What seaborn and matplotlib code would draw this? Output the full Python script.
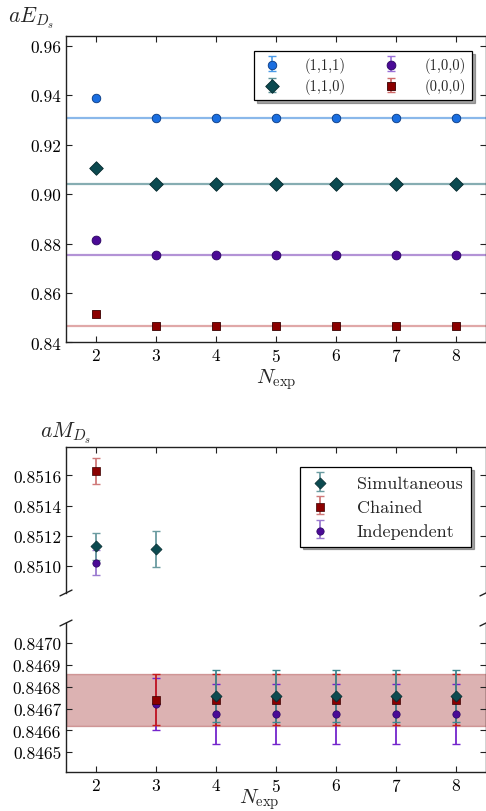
import matplotlib
matplotlib.use("Agg")
import numpy as np
import pandas as pd
import seaborn as sns
import matplotlib.pyplot as plt
from matplotlib.ticker import FormatStrFormatter, MultipleLocator

# ---------------- data ----------------
n_exp = [2, 3, 4, 5, 6, 7, 8]

# top panel: aE_Ds for different momenta
mom_labels = ["(1,1,1)", "(1,1,0)", "(1,0,0)", "(0,0,0)"]
e_111 = [0.9388, 0.9309, 0.9309, 0.9309, 0.9309, 0.9309, 0.9309]
e_110 = [0.9106, 0.9039, 0.9039, 0.9039, 0.9039, 0.9039, 0.9039]
e_100 = [0.8814, 0.8755, 0.8755, 0.8755, 0.8755, 0.8755, 0.8755]
e_000 = [0.8517, 0.8468, 0.8468, 0.8468, 0.8468, 0.8468, 0.8468]
e_err = [0.0002, 0.0001, 0.0001, 0.0001, 0.0001, 0.0001, 0.0001]
e_fit = [0.9309, 0.9039, 0.8755, 0.8468]

# bottom panel: aM_Ds for fit strategies
fit_labels = ["Simultaneous", "Chained", "Independent"]
m_sim = [0.85113, 0.85111, 0.846759, 0.846759, 0.846759, 0.846759, 0.846759]
m_sim_err = [0.00009, 0.00012, 0.00012, 0.00012, 0.00012, 0.00012, 0.00012]
m_chn = [0.85163, 0.84674, 0.84674, 0.84674, 0.84674, 0.84674, 0.84674]
m_chn_err = [0.000085, 0.000117, 0.000117, 0.000117, 0.000117, 0.000117, 0.000117]
m_ind = [0.85102, 0.84672, 0.846674, 0.846674, 0.846674, 0.846674, 0.846674]
m_ind_err = [0.000083, 0.00012, 0.000138, 0.000138, 0.000138, 0.000138, 0.000138]
band_lo, band_hi = 0.84662, 0.846859

# ---------------- style ----------------
sns.set_style("ticks")
plt.rcParams.update({
    "font.family": "serif",
    "font.serif": ["cmr10", "DejaVu Serif"],
    "mathtext.fontset": "cm",
    "axes.formatter.use_mathtext": True,
    "axes.unicode_minus": False,
    "xtick.direction": "in",
    "ytick.direction": "in",
    "xtick.major.size": 4,
    "ytick.major.size": 4,
    "axes.edgecolor": "#222222",
    "axes.linewidth": 1.0,
    "xtick.color": "#222222",
    "ytick.color": "#222222",
    "xtick.labelcolor": "black",
    "ytick.labelcolor": "black",
    "legend.scatterpoints": 1,
})

fig = plt.figure(figsize=(4.86, 8.12), dpi=100)
L, W = 0.1358, 0.8642
ax1 = fig.add_axes([L, 0.5770, W, 0.3774])
ax2 = fig.add_axes([L, 0.2685, W, 0.1801])
ax3 = fig.add_axes([L, 0.0484, W, 0.1831])

# ---------------- top panel ----------------
top_series = [e_111, e_110, e_100, e_000]
top_mark = ["o", "D", "o", "s"]
top_size = [38, 48, 40, 40]
top_col = ["#1a6ee0", "#0c4a50", "#4b0a96", "#8b0000"]
top_edge = ["#0a3a80", "#062a2e", "#2a0560", "#3a0000"]
top_line = ["#8ab8ea", "#86adb2", "#b393d6", "#e0a8a8"]
top_ecol = ["#4a9ae8", "#5a8f96", "#9a70d8", "#d06a6a"]

handles_top = []
for vals, mk, sz, c, ec, lc, erc, fit, lab in zip(top_series, top_mark, top_size, top_col,
                                                top_edge, top_line, top_ecol, e_fit, mom_labels):
    ax1.axhline(fit, color=lc, lw=1.6, zorder=1)
    eb = ax1.errorbar(n_exp, vals, yerr=e_err, fmt="none", ecolor=erc, elinewidth=1.2,
                      capsize=3, capthick=1.0, zorder=2)
    df = pd.DataFrame({"N": n_exp, "v": vals})
    sns.scatterplot(data=df, x="N", y="v", marker=mk, s=sz, color=c, edgecolor=ec,
                    linewidth=0.6, ax=ax1, zorder=3, legend=False)
    handles_top.append((eb, ax1.collections[-1]))

ax1.set_xlim(1.5, 8.5)
ax1.set_ylim(0.84, 0.9639)
ax1.yaxis.set_major_locator(MultipleLocator(0.02))
ax1.yaxis.set_major_formatter(FormatStrFormatter("%.2f"))
ax1.set_xticks(n_exp)
ax1.tick_params(axis="both", labelsize=12.5, top=True, right=True)
ax1.set_xlabel(r"$N_{\rm exp}$", fontsize=15)
ax1.xaxis.set_label_coords(0.5, -0.078)
ax1.set_ylabel("")
ax1.text(-0.083, 1.062, r"$aE_{D_s}$", transform=ax1.transAxes, fontsize=15.5,
         ha="center", va="center")
for s in ax1.spines.values():
    s.set_visible(True)

leg1 = ax1.legend(handles_top, mom_labels,
                  ncol=2, loc="upper right", bbox_to_anchor=(0.967, 0.951),
                  borderaxespad=0.0,
                  fontsize=10.5, frameon=True, fancybox=False, shadow=True,
                  edgecolor="black", handlelength=1.6, columnspacing=2.3,
                  handletextpad=1.5, borderpad=0.4, labelspacing=0.35)
leg1.get_frame().set_linewidth(0.9)

# ---------------- bottom panels ----------------
bot_series = [m_sim, m_chn, m_ind]
bot_err = [m_sim_err, m_chn_err, m_ind_err]
bot_mark = ["D", "s", "o"]
bot_size = [32, 28, 28]
bot_col = ["#0c4a50", "#8b0000", "#4b0a96"]
bot_edge = ["#062a2e", "#3a0000", "#2a0560"]
bot_ecol_up = ["#6a9ba0", "#d07a7a", "#9a7ad0"]
bot_ecol_lo = ["#3e8890", "#c81e1e", "#7424cc"]

ax3.axhspan(band_lo, band_hi, facecolor="#8b0000", alpha=0.3, edgecolor="#8b0000",
            lw=1.0, zorder=0)

order = [2, 1, 0]  # draw independent first, simultaneous on top
eb_store = {}
sc_store = {}
for ax, ecols in ((ax2, bot_ecol_up), (ax3, bot_ecol_lo)):
    for i in order:
        eb = ax.errorbar(n_exp, bot_series[i], yerr=bot_err[i], fmt="none",
                         ecolor=ecols[i], elinewidth=1.3, capsize=3, capthick=1.0, zorder=2)
        df = pd.DataFrame({"N": n_exp, "v": bot_series[i]})
        sns.scatterplot(data=df, x="N", y="v", marker=bot_mark[i], s=bot_size[i],
                        color=bot_col[i], edgecolor=bot_edge[i], linewidth=0.5,
                        ax=ax, zorder=3 + (2 - i), legend=False)
        if ax is ax2:
            eb_store[i] = eb
            sc_store[i] = ax.collections[-1]

for ax in (ax2, ax3):
    ax.set_xlim(1.5, 8.5)
    ax.set_xticks(n_exp)
    ax.set_ylabel("")
    ax.set_xlabel("")
    ax.tick_params(axis="both", labelsize=12.5, right=True)
    ax.yaxis.set_major_formatter(FormatStrFormatter("%.4f"))

ax2.set_ylim(0.85082, 0.85179)
ax2.yaxis.set_major_locator(MultipleLocator(0.0002))
ax2.spines["bottom"].set_visible(False)
ax2.spines["top"].set_visible(True)
ax2.spines["right"].set_visible(True)
ax2.tick_params(axis="x", bottom=False, labelbottom=False, top=True)

ax3.set_ylim(0.846411, 0.847093)
ax3.yaxis.set_major_locator(MultipleLocator(0.0001))
ax3.spines["top"].set_visible(False)
ax3.spines["right"].set_visible(True)
ax3.tick_params(axis="x", top=False)
ax3.set_xlabel(r"$N_{\rm exp}$", fontsize=15)
ax3.xaxis.set_label_coords(0.46, -0.098)

ax2.text(0.0, 1.10, r"$aM_{D_s}$", transform=ax2.transAxes, fontsize=15.5,
         ha="center", va="center")

# break marks
dx, dy = 0.0143, 0.02
kw = dict(color="#222222", lw=1.0, clip_on=False)
ax2.plot([-dx, dx], [-dy, dy], transform=ax2.transAxes, **kw)
ax2.plot([1 - dx, 1 + dx], [-dy, dy], transform=ax2.transAxes, **kw)
dy3 = dy * 0.1801 / 0.1831
ax3.plot([-dx, dx], [1 - dy3, 1 + dy3], transform=ax3.transAxes, **kw)
ax3.plot([1 - dx, 1 + dx], [1 - dy3, 1 + dy3], transform=ax3.transAxes, **kw)

leg2 = ax2.legend([(eb_store[i], sc_store[i]) for i in range(3)], fit_labels,
                  loc="upper right", bbox_to_anchor=(0.964, 0.861), borderaxespad=0.0,
                  fontsize=13, frameon=True, fancybox=False, shadow=True, edgecolor="black",
                  handlelength=1.3, handletextpad=1.4, borderpad=0.45, labelspacing=0.45)
leg2.get_frame().set_linewidth(0.9)

fig.savefig("out.png", dpi=100)
